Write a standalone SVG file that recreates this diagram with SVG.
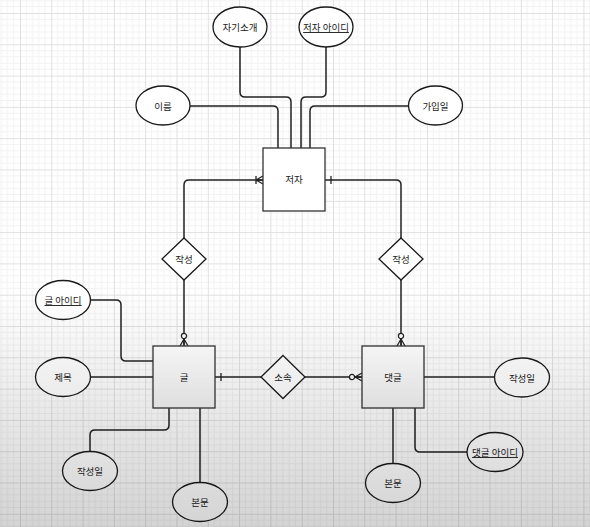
<svg xmlns="http://www.w3.org/2000/svg" width="590" height="527" viewBox="0 0 590 527">
  <defs>
    <pattern id="grid" patternUnits="userSpaceOnUse" x="20" y="13" width="31.3" height="31.3">
      <path d="M6.26,0V31.3M12.52,0V31.3M18.78,0V31.3M25.04,0V31.3M0,6.26H31.3M0,12.52H31.3M0,18.78H31.3M0,25.04H31.3" stroke="#f2f2f2" stroke-width="1" fill="none"/>
      <path d="M0.5,0V31.3M0,0.5H31.3" stroke="#e0e0e0" stroke-width="1" fill="none"/>
    </pattern>
    <linearGradient id="shade" x1="0" y1="0" x2="0" y2="527" gradientUnits="userSpaceOnUse">
      <stop offset="0" stop-color="#000" stop-opacity="0"/>
      <stop offset="0.55" stop-color="#000" stop-opacity="0"/>
      <stop offset="1" stop-color="#000" stop-opacity="0.17"/>
    </linearGradient>
    <linearGradient id="boxfill" x1="0" y1="0" x2="0" y2="1">
      <stop offset="0" stop-color="#ffffff"/>
      <stop offset="1" stop-color="#f3f3f3"/>
    </linearGradient>
    <marker id="zeroMany" markerUnits="userSpaceOnUse" markerWidth="20" markerHeight="16" viewBox="-16 -8 20 16" refX="0" refY="0" orient="auto" overflow="visible">
      <path d="M-7,0L0,-4M-7,0L0,0M-7,0L0,4" stroke="#222" stroke-width="1.3" fill="none"/>
      <circle cx="-10" cy="0" r="2.6" fill="#fff" stroke="#222" stroke-width="1.3"/>
    </marker>
    <marker id="oneMany" markerUnits="userSpaceOnUse" markerWidth="20" markerHeight="16" viewBox="-16 -8 20 16" refX="0" refY="0" orient="auto" overflow="visible">
      <path d="M-7,0L0,-4M-7,0L0,0M-7,0L0,4M-7,-4V4" stroke="#222" stroke-width="1.3" fill="none"/>
    </marker>
    <marker id="one" markerUnits="userSpaceOnUse" markerWidth="20" markerHeight="16" viewBox="-16 -8 20 16" refX="0" refY="0" orient="auto" overflow="visible">
      <path d="M-6,-4V4" stroke="#222" stroke-width="1.3" fill="none"/>
    </marker>
  </defs>
  <style>
    .conn { fill: none; stroke: #222; stroke-width: 1.5; }
    .attr { fill: #fff; stroke: #1a1a1a; stroke-width: 1.3; }
    .ent { fill: url(#boxfill); stroke: #333; stroke-width: 1.3; }
    .rel { fill: #fff; stroke: #1a1a1a; stroke-width: 1.3; }
    text { font-family: "Noto Sans CJK KR", "Noto Sans", sans-serif; font-size: 9.5px; fill: #222; text-anchor: middle; dominant-baseline: central; }
    .key { text-decoration: underline; }
  </style>

  <rect width="590" height="527" fill="#fff"/>
  <rect width="590" height="527" fill="url(#grid)"/>

  <g id="connectors">
    <path class="conn" d="M240,47V92Q240,97 245,97H286Q291,97 291,102V148"/>
    <path class="conn" d="M326,47V92Q326,97 321,97H306Q301,97 301,102V148"/>
    <path class="conn" d="M190,106H273Q278,106 278,111V148"/>
    <path class="conn" d="M408,106H315Q310,106 310,111V148"/>
    <path class="conn" d="M184,238V185Q184,180 189,180H263" marker-end="url(#oneMany)"/>
    <path class="conn" d="M401,238V185Q401,180 396,180H325" marker-end="url(#one)"/>
    <path class="conn" d="M184,280V346" marker-end="url(#zeroMany)"/>
    <path class="conn" d="M401,280V346" marker-end="url(#zeroMany)"/>
    <path class="conn" d="M261,377H215" marker-end="url(#one)"/>
    <path class="conn" d="M305,377H362" marker-end="url(#zeroMany)"/>
    <path class="conn" d="M91,300H116Q121,300 121,305V356Q121,361 126,361H153"/>
    <path class="conn" d="M91,377H153"/>
    <path class="conn" d="M90,452V435Q90,430 95,430H164Q169,430 169,425V408"/>
    <path class="conn" d="M200,408V483"/>
    <path class="conn" d="M424,377H494"/>
    <path class="conn" d="M415,408V447Q415,452 420,452H467"/>
    <path class="conn" d="M393,408V463"/>
  </g>

  <g id="author">
    <rect x="263" y="148" width="62" height="63" fill="#fff" stroke="#333" stroke-width="1.3"/>
    <text x="294" y="179">저자</text>
  </g>
  <g id="author-intro">
    <ellipse class="attr" cx="240" cy="27" rx="27" ry="20"/>
    <text x="240" y="27">자기소개</text>
  </g>
  <g id="author-id">
    <ellipse class="attr" cx="326" cy="27" rx="27" ry="20"/>
    <text class="key" x="326" y="27">저자 아이디</text>
  </g>
  <g id="author-name">
    <ellipse class="attr" cx="163" cy="105.5" rx="27" ry="19.5"/>
    <text x="163" y="105.5">이름</text>
  </g>
  <g id="author-joined">
    <ellipse class="attr" cx="435.5" cy="105.5" rx="27" ry="19.5"/>
    <text x="435.5" y="105.5">가입일</text>
  </g>

  <g id="writes-post">
    <polygon class="rel" points="184,238 206,259 184,280 162,259"/>
    <text x="184" y="259">작성</text>
  </g>
  <g id="writes-comment">
    <polygon class="rel" points="401,238 423,259 401,280 379,259"/>
    <text x="401" y="259">작성</text>
  </g>
  <g id="belongs">
    <polygon class="rel" points="283,355.5 305,377 283,398.5 261,377"/>
    <text x="283" y="377">소속</text>
  </g>

  <g id="post">
    <rect class="ent" x="153" y="346" width="62" height="62"/>
    <text x="184" y="377">글</text>
  </g>
  <g id="post-id">
    <ellipse class="attr" cx="63" cy="300" rx="27.5" ry="19.5"/>
    <text class="key" x="63" y="300">글 아이디</text>
  </g>
  <g id="post-title">
    <ellipse class="attr" cx="63" cy="377" rx="27.5" ry="19.5"/>
    <text x="63" y="377">제목</text>
  </g>
  <g id="post-date">
    <ellipse class="attr" cx="90" cy="471" rx="27.5" ry="19.5"/>
    <text x="90" y="471">작성일</text>
  </g>
  <g id="post-body">
    <ellipse class="attr" cx="200" cy="502" rx="27.5" ry="19.5"/>
    <text x="200" y="502">본문</text>
  </g>

  <g id="comment">
    <rect class="ent" x="362" y="346" width="62" height="62"/>
    <text x="393" y="377">댓글</text>
  </g>
  <g id="comment-date">
    <ellipse class="attr" cx="522" cy="377.5" rx="27.5" ry="19.5"/>
    <text x="522" y="377.5">작성일</text>
  </g>
  <g id="comment-id">
    <ellipse class="attr" cx="495" cy="452" rx="28" ry="19.5"/>
    <text class="key" x="495" y="452">댓글 아이디</text>
  </g>
  <g id="comment-body">
    <ellipse class="attr" cx="393" cy="483" rx="27.5" ry="19.5"/>
    <text x="393" y="483">본문</text>
  </g>

  <rect width="590" height="527" fill="url(#shade)" pointer-events="none"/>
</svg>
